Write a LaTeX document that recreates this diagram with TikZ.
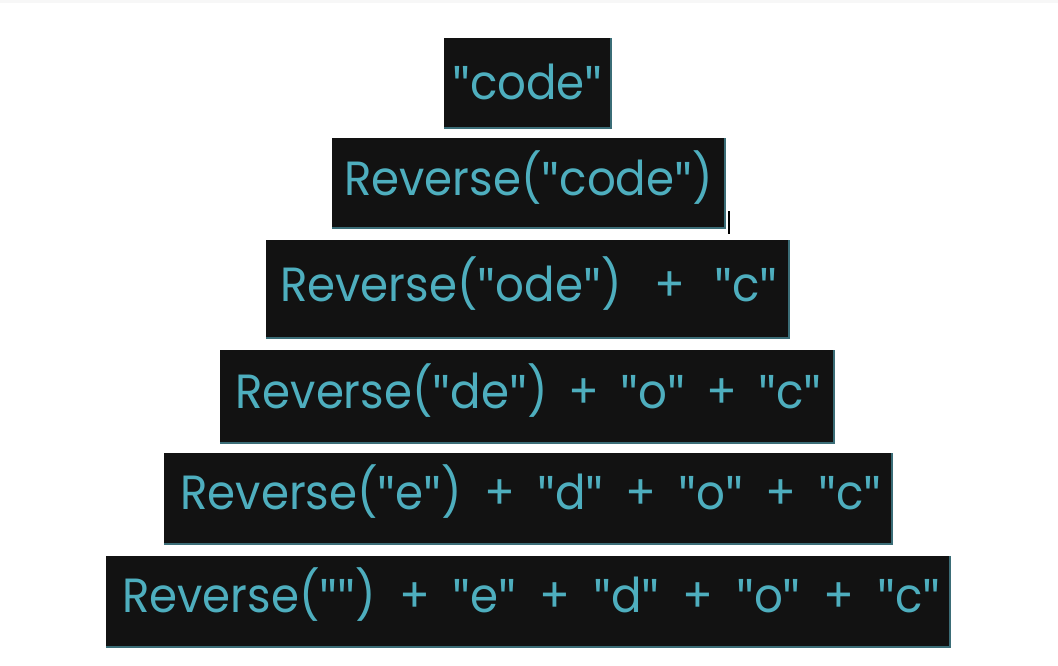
\documentclass[tikz,border=0pt]{standalone}
\usepackage{fontspec}
\setmainfont{Poppins}[FakeStretch=0.94]
\newfontfamily\quotefont{Fira Sans}[FakeStretch=0.94]
\newcommand{\qm}{{\quotefont"}}
\newcommand{\gapA}{\hspace{21pt}}
\newcommand{\gapB}{\hspace{22pt}}
\newcommand{\gapC}{\hspace{22.8pt}}
\definecolor{boxbg}{HTML}{121212}
\definecolor{teal}{HTML}{4EAEBE}
\definecolor{edgec}{HTML}{3B6D77}
\definecolor{topstrip}{HTML}{F7F7F7}
\begin{document}
\begin{tikzpicture}[x=1pt,y=-1pt,
  blk/.style={fill=boxbg, draw=none, inner sep=0pt, outer sep=0pt, anchor=north west},
  txt/.style={text=teal, inner sep=0pt, anchor=base, font=\fontsize{48}{48}\selectfont},
  edge/.style={draw=edgec, line width=1.2pt}]
\fill[white] (0,0) rectangle (1058,665);
\useasboundingbox (0,0) rectangle (1058,665);
\fill[topstrip] (0,0) rectangle (1058,3);
% boxes
\node[blk, minimum width=167, minimum height=90] (b1) at (444,38) {};
\node[blk, minimum width=393, minimum height=90] (b2) at (332,138) {};
\node[blk, minimum width=523, minimum height=98] (b3) at (266,240) {};
\node[blk, minimum width=614, minimum height=93] (b4) at (220,350) {};
\node[blk, minimum width=728, minimum height=91] (b5) at (164,453) {};
\node[blk, minimum width=844, minimum height=91] (b6) at (106,556) {};
\foreach \b in {b1,b2,b3,b4,b5,b6}{
  \draw[edge] (\b.north east) -- (\b.south east) -- (\b.south west);
}
% cursor mark
\coordinate (c1) at (729,211);
\coordinate (c2) at (729,234);
\draw[black, line width=2pt] (c1) -- (c2);
% texts
\node[txt] (t1) at (527.5,99) {\qm code\qm};
\node[txt] (t2) at (528.5,195) {Reverse(\qm code\qm)};
\node[txt] (t3) at (529,301) {Reverse(\qm ode\qm)\hspace{33pt}+\hspace{29pt}\qm c\qm};
\node[txt] (t4) at (528.5,408) {Reverse(\qm de\qm)\gapA+\gapA\qm o\qm\gapA+\gapA\qm c\qm};
\node[txt] (t5) at (531,509) {Reverse(\qm e\qm)\gapB+\gapB\qm d\qm\gapB+\gapB\qm o\qm\gapB+\gapB\qm c\qm};
\node[txt] (t6) at (531.5,612) {Reverse(\qm\qm)\gapC+\gapC\qm e\qm\gapC+\gapC\qm d\qm\gapC+\gapC\qm o\qm\gapC+\gapC\qm c\qm};
\end{tikzpicture}
\end{document}
